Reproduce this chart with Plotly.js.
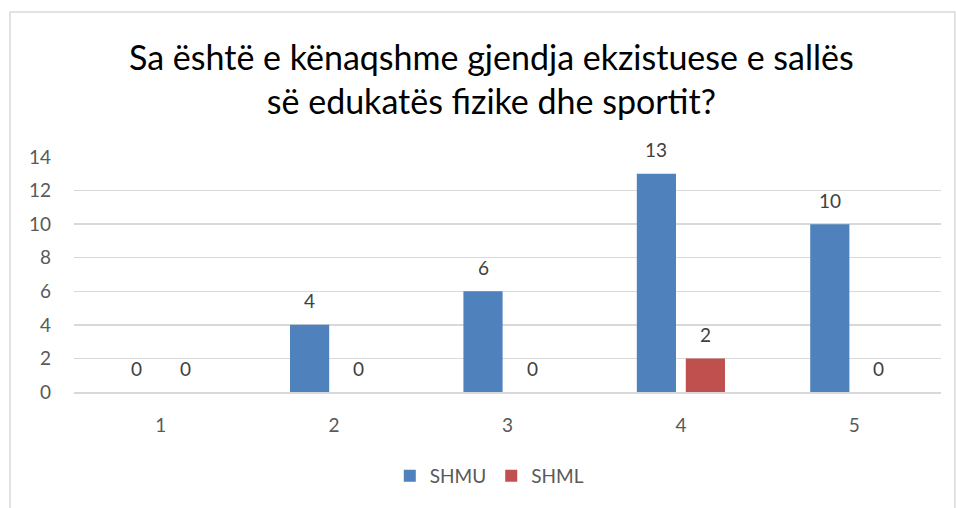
<!DOCTYPE html>
<html>
<head>
<meta charset="utf-8">
<script src="https://cdn.plot.ly/plotly-3.0.1.min.js"></script>
<style>html,body{margin:0;padding:0;background:#fff;}#chart{width:956px;height:508px;}</style>
</head>
<body>
<div id="chart"></div>
<script>
const categories = ['1', '2', '3', '4', '5'];
const shmu = [0, 4, 6, 13, 10];
const shml = [0, 0, 0, 2, 0];
const seriesNames = ['SHMU', 'SHML'];
const yTicks = [0, 2, 4, 6, 8, 10, 12, 14];

const FONT = 'Lato, "Open Sans", sans-serif';
const labelColor = '#404040';

const traces = [
  {type: 'bar', name: seriesNames[0], x: categories, y: shmu,
   marker: {color: '#4F81BD', line: {width: 0}}, hoverinfo: 'none'},
  {type: 'bar', name: seriesNames[1], x: categories, y: shml,
   marker: {color: '#C0504D', line: {width: 0}}, hoverinfo: 'none'}
];

const annotations = [];
[shmu, shml].forEach((vals, si) => {
  vals.forEach((v, i) => {
    annotations.push({x: i, y: v, xref: 'x', yref: 'y', text: String(v),
      showarrow: false, yshift: 24, xshift: si === 0 ? -24.5 : 24.5,
      font: {family: FONT, size: 19, color: labelColor}});
  });
});

const layout = {
  width: 956, height: 508,
  margin: {l: 74, r: 15, t: 157, b: 116},
  paper_bgcolor: '#fff', plot_bgcolor: '#fff',
  font: {family: FONT, color: '#595959'},
  title: {text: 'Sa është e kënaqshme gjendja ekzistuese e sallës<br>së edukatës fizike dhe sportit?',
    font: {family: FONT, size: 34, color: '#000'}, x: 0.514, xanchor: 'center', y: 0.862, yanchor: 'middle'},
  barmode: 'group', bargap: 0.435, bargroupgap: 0.2,
  xaxis: {type: 'category', range: [-0.5, 4.5], showgrid: false, showline: true, linecolor: '#d9d9d9', linewidth: 1.5,
    ticks: '', tickfont: {family: FONT, size: 19, color: '#595959'}, ticklabelstandoff: 16, fixedrange: true},
  yaxis: {range: [0, 14], tickvals: yTicks, showgrid: true, gridcolor: '#d9d9d9', gridwidth: 1.5,
    zeroline: false, showline: false, ticks: '', tickfont: {family: FONT, size: 19, color: '#595959'},
    ticklabelstandoff: 22, fixedrange: true},
  showlegend: true,
  legend: {orientation: 'h', x: 0.479, xanchor: 'center', y: -0.357, yanchor: 'middle',
    font: {family: FONT, size: 19, color: '#595959'}, itemwidth: 30, tracegroupgap: 0},
  annotations: annotations,
  shapes: [{type: 'rect', xref: 'paper', yref: 'paper', x0: -0.0738, x1: 1.016, y0: -0.55, y1: 1.617,
    line: {color: '#d9d9d9', width: 1.5}, fillcolor: 'rgba(0,0,0,0)', layer: 'below'}]
};

Plotly.newPlot('chart', traces, layout, {displayModeBar: false, staticPlot: true});
</script>
</body>
</html>
